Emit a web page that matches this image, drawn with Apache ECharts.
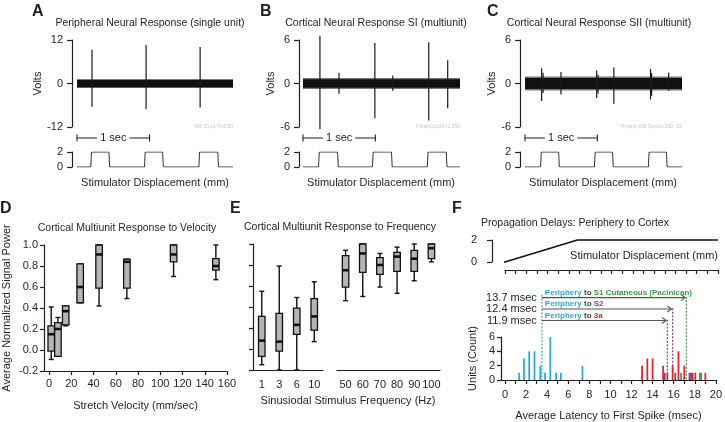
<!DOCTYPE html>
<html>
<head>
<meta charset="utf-8">
<script src="https://cdn.jsdelivr.net/npm/echarts@6/dist/echarts.min.js"></script>
<style>html,body{margin:0;padding:0;background:#fff}#chart{width:725px;height:422px}</style>
</head>
<body>
<div id="chart"></div>
<script>
var FONT = '"Liberation Sans", Arial, Helvetica, sans-serif';
var INK = '#231f20';
var BLUE = '#27aae1', RED = '#e2262b', PURPLE = '#7d3f98', GREEN = '#3a9a46';

// ---- top traces: time (sec), volts ----
var traceEnd = [2.15, 2.17, 2.17];
var spikesA = [[0.207, 9.3, -6.4], [0.952, 10.6, -7.0], [1.697, 10.1, -6.6]];
var spikesB = [[0.234, 6.6, -6.3], [0.497, 1.5, -1.4], [0.993, 5.6, -4.8], [1.241, 1.1, -1.0], [1.738, 5.7, -5.1], [2.0, 3.2, -3.4]];
var spikesC = [[0.23, 2.1, -2.4], [0.25, 1.5, -1.3], [0.497, 1.6, -1.5], [0.99, 1.8, -2.0], [1.01, 1.2, -1.4],
               [1.228, 2.2, -2.8], [1.735, 2.0, -2.2], [1.75, 1.4, -1.7], [1.986, 1.5, -1.0]];
var noiseA = [1.0, 1.25];   // inner / outer half-band (V)
var noiseB = [0.6, 0.75];
var noiseC = [0.75, 0.95];
var stimA = [[0,0],[0.19,0],[0.2,2],[0.44,2],[0.45,0],[0.93,0],[0.94,2],[1.18,2],[1.19,0],[1.68,0],[1.69,2],[1.94,2],[1.95,0],[2.15,0]];
var stimB = [[0,0],[0.215,0],[0.225,2],[0.478,2],[0.488,0],[0.96,0],[0.97,2],[1.223,2],[1.233,0],[1.718,0],[1.728,2],[1.98,2],[1.99,0],[2.17,0]];
var stimC = [[0,0],[0.215,0],[0.225,2],[0.465,2],[0.475,0],[0.96,0],[0.97,2],[1.21,2],[1.22,0],[1.705,0],[1.715,2],[1.955,2],[1.965,0],[2.17,0]];

// ---- D: velocity boxes [whisker low, Q1, median, Q3, whisker high] ----
var velocity = [2, 8, 15, 28, 45, 70, 112, 150];
var velocityBoxes = [
  [-0.09, -0.01, 0.15, 0.23, 0.41],
  [-0.06, -0.06, 0.20, 0.26, 0.31],
  [0.23, 0.24, 0.37, 0.42, 0.42],
  [0.45, 0.45, 0.60, 0.82, 0.82],
  [0.42, 0.59, 0.91, 1.00, 1.00],
  [0.49, 0.59, 0.84, 0.865, 0.865],
  [0.70, 0.84, 0.91, 1.00, 1.00],
  [0.67, 0.76, 0.80, 0.87, 1.00]
];
// ---- E: frequency boxes ----
var freqLow = ['1', '3', '6', '10'];
var freqLowBoxes = [
  [-0.15, -0.07, 0.08, 0.31, 0.55],
  [-0.20, -0.02, 0.07, 0.34, 0.79],
  [-0.20, 0.14, 0.23, 0.39, 0.49],
  [0.07, 0.18, 0.31, 0.48, 0.64]
];
var freqHigh = ['50', '60', '70', '80', '90', '100'];
var freqHighBoxes = [
  [0.46, 0.59, 0.75, 0.89, 0.94],
  [0.50, 0.73, 0.91, 1.00, 1.00],
  [0.59, 0.71, 0.80, 0.87, 0.91],
  [0.53, 0.74, 0.88, 0.92, 0.97],
  [0.65, 0.74, 0.86, 0.94, 1.00],
  [0.83, 0.86, 0.96, 1.00, 1.00]
];
// ---- F: latency histogram (msec, count) ----
var latBlue = [1.35, 1.8, 2.3, 2.8, 3.35, 3.8, 4.3, 4.85, 5.3, 7.35];
var cntBlue = [1, 3, 4, 4, 2, 1, 6, 1, 1, 2];
var latRed = [13.0, 13.5, 14.0, 15.0, 15.4, 15.9, 16.45, 17.0, 17.8, 18.05, 19.0];
var cntRed = [2, 3, 3, 2, 1, 2, 4, 2, 1, 1, 1];
var latPurple = [15.15, 16.15, 17.5, 17.65];
var cntPurple = [1, 1, 1, 1];
var latGreen = [16.7, 18.5, 18.6];
var cntGreen = [1, 1, 1];
var rampStim = [[-0.6, 0], [0, 0], [6.8, 2], [20, 2]];
var peripheryOnset = 3.5;
var pathTargets = ['S1 Cutaneous (Pacinican)', 'S2', '3a'];
var pathDelays = [13.7, 12.4, 11.9];
var pathColors = [GREEN, PURPLE, RED];
var arrowLevels = [11.5, 9.9, 8.3];   // layout (count units above the bars)

var chart = echarts.init(document.getElementById('chart'), null, {renderer: 'canvas'});

function zip(a, b) { return a.map(function (v, i) { return [v, b[i]]; }); }

function noiseItem(params, api) {
  var t0 = api.value(0), t1 = api.value(1), inner = api.value(2), outer = api.value(3);
  var p0 = api.coord([t0, outer]), p1 = api.coord([t1, -outer]);
  var q0 = api.coord([t0, inner]), q1 = api.coord([t1, -inner]);
  return {type: 'group', children: [
    {type: 'rect', shape: {x: p0[0], y: p0[1], width: p1[0] - p0[0], height: p1[1] - p0[1]}, style: {fill: 'rgba(30,30,30,0.6)'}},
    {type: 'rect', shape: {x: q0[0], y: q0[1], width: q1[0] - q0[0], height: q1[1] - q0[1]}, style: {fill: '#111'}}
  ]};
}
function spikeItem(params, api) {
  var a = api.coord([api.value(0), api.value(1)]), b = api.coord([api.value(0), api.value(2)]);
  return {type: 'line', shape: {x1: a[0], y1: a[1], x2: b[0], y2: b[1]}, style: {stroke: '#1a1a1a', lineWidth: 1.2}};
}
function scaleBarItem(params, api) {
  var a = api.coord([api.value(0), api.value(2)]), b = api.coord([api.value(1), api.value(2)]);
  var y = a[1] + 11;
  var st = {stroke: INK, lineWidth: 1.1};
  return {type: 'group', children: [
    {type: 'line', shape: {x1: a[0], y1: y, x2: b[0], y2: y}, style: st},
    {type: 'line', shape: {x1: a[0], y1: y - 3.5, x2: a[0], y2: y + 3.5}, style: st},
    {type: 'line', shape: {x1: b[0], y1: y - 3.5, x2: b[0], y2: y + 3.5}, style: st},
    {type: 'text', x: (a[0] + b[0]) / 2, y: y, style: {text: '1 sec', align: 'center', verticalAlign: 'middle',
      fontSize: 11, fontFamily: FONT, fill: INK, backgroundColor: '#fff', padding: [0, 3]}}
  ]};
}
function boxItem(params, api) {
  var x = api.value(0);
  var lo = api.coord([x, api.value(1)]), q1 = api.coord([x, api.value(2)]), md = api.coord([x, api.value(3)]);
  var q3 = api.coord([x, api.value(4)]), hi = api.coord([x, api.value(5)]);
  var cx = lo[0], w = 6.5, st = {stroke: '#111', lineWidth: 1.4};
  return {type: 'group', children: [
    {type: 'line', shape: {x1: cx, y1: hi[1], x2: cx, y2: lo[1]}, style: st},
    {type: 'line', shape: {x1: cx - 2.5, y1: hi[1], x2: cx + 2.5, y2: hi[1]}, style: st},
    {type: 'line', shape: {x1: cx - 2.5, y1: lo[1], x2: cx + 2.5, y2: lo[1]}, style: st},
    {type: 'rect', shape: {x: cx - w / 2, y: q3[1], width: w, height: Math.max(q1[1] - q3[1], 1)},
      style: {fill: '#b5b5b5', stroke: '#111', lineWidth: 1.3}},
    {type: 'line', shape: {x1: cx - w / 2, y1: md[1], x2: cx + w / 2, y2: md[1]}, style: {stroke: '#111', lineWidth: 2.6}}
  ]};
}
function histItem(color) {
  return function (params, api) {
    var a = api.coord([api.value(0), api.value(1)]), b = api.coord([api.value(0), 0]);
    return {type: 'rect', shape: {x: a[0] - 0.9, y: a[1], width: 1.8, height: b[1] - a[1]}, style: {fill: color}};
  };
}
function dottedItem(params, api) {
  var i = api.value(2);
  var a = api.coord([api.value(0), api.value(1)]), b = api.coord([api.value(0), 0]);
  var c = i < 0 ? BLUE : pathColors[i];
  return {type: 'line', shape: {x1: a[0], y1: a[1], x2: b[0], y2: b[1]}, style: {stroke: c, lineWidth: 1.2, lineDash: [2, 1.5]}};
}
function arrowItem(params, api) {
  var i = api.value(3);
  var a = api.coord([api.value(0), api.value(2)]), b = api.coord([api.value(1), api.value(2)]);
  var st = {stroke: '#555', lineWidth: 1.1};
  return {type: 'group', children: [
    {type: 'line', shape: {x1: a[0], y1: a[1], x2: b[0], y2: b[1]}, style: st},
    {type: 'polyline', shape: {points: [[b[0] - 4, b[1] - 3], [b[0], b[1]], [b[0] - 4, b[1] + 3]]}, style: {stroke: '#555', lineWidth: 1.1, fill: null}},
    {type: 'text', x: a[0] - 5, y: a[1], style: {text: pathDelays[i].toFixed(1) + ' msec', align: 'right', verticalAlign: 'middle',
      fontSize: 11, fontFamily: FONT, fill: INK}},
    {type: 'text', x: a[0] + 3, y: a[1] - 5, style: {
      text: '{p|Periphery} {t|to} {c|' + pathTargets[i] + '}', align: 'left', verticalAlign: 'middle',
      fontSize: 8, fontFamily: FONT, fontWeight: 'bold',
      rich: {p: {fill: BLUE, fontSize: 8, fontWeight: 'bold', fontFamily: FONT},
             t: {fill: '#444', fontSize: 8, fontWeight: 'bold', fontFamily: FONT},
             c: {fill: pathColors[i], fontSize: 8, fontWeight: 'bold', fontFamily: FONT}}}}
  ]};
}

function lab(size) { return {fontSize: size || 11, fontFamily: FONT, color: INK}; }
function axLine() { return {show: true, onZero: false, lineStyle: {color: INK, width: 1.2}}; }
function voltAxis(gi, lim, offset) {
  return {gridIndex: gi, type: 'value', min: -lim, max: lim, interval: lim, offset: offset,
    axisLine: axLine(), axisTick: {show: true, length: 5, lineStyle: {color: INK, width: 1.2}},
    axisLabel: Object.assign(lab(11), {margin: 9}), splitLine: {show: false},
    name: 'Volts', nameLocation: 'middle', nameGap: 21, nameTextStyle: lab(11)};
}
function stimAxis(gi, offset, margin) {
  return {gridIndex: gi, type: 'value', min: 0, max: 2, interval: 2, offset: offset,
    axisLine: axLine(), axisTick: {show: true, length: 5, lineStyle: {color: INK, width: 1.2}},
    axisLabel: Object.assign(lab(11), {margin: margin || 9}), splitLine: {show: false}};
}
function timeAxis(gi, end) { return {gridIndex: gi, type: 'value', min: 0, max: end, show: false}; }
function fmt1(v) { return Math.abs(v) < 1e-9 ? '0.0' : v.toFixed(1); }
function ticks(a, b, s) { var r = []; for (var v = a; v <= b + 1e-9; v += s) r.push(+v.toFixed(3)); return r; }

var boxRows = function (xs, boxes) { return boxes.map(function (b, i) { return [xs[i]].concat(b); }); };
var catRows = function (boxes) { return boxes.map(function (b, i) { return [i].concat(b); }); };

var series = [];
var traces = [[spikesA, noiseA, stimA, 12], [spikesB, noiseB, stimB, 6], [spikesC, noiseC, stimC, 6]];
traces.forEach(function (t, k) {
  var g = k * 2;
  series.push({type: 'custom', xAxisIndex: g, yAxisIndex: g, renderItem: noiseItem, data: [[0, traceEnd[k], t[1][0], t[1][1]]], silent: true});
  series.push({type: 'custom', xAxisIndex: g, yAxisIndex: g, renderItem: spikeItem, data: t[0], silent: true});
  series.push({type: 'custom', xAxisIndex: g, yAxisIndex: g, renderItem: scaleBarItem, data: [[0, 1, -t[3]]], silent: true, clip: false});
  series.push({type: 'line', xAxisIndex: g + 1, yAxisIndex: g + 1, data: t[2], showSymbol: false, silent: true,
    lineStyle: {color: '#333', width: 1}});
});
series.push({type: 'custom', xAxisIndex: 6, yAxisIndex: 6, renderItem: boxItem, data: boxRows(velocity, velocityBoxes), clip: false});
series.push({type: 'custom', xAxisIndex: 7, yAxisIndex: 7, renderItem: boxItem, data: catRows(freqLowBoxes), clip: false});
series.push({type: 'custom', xAxisIndex: 8, yAxisIndex: 8, renderItem: boxItem, data: catRows(freqHighBoxes), clip: false});
series.push({type: 'line', xAxisIndex: 9, yAxisIndex: 9, data: rampStim, showSymbol: false, clip: false, lineStyle: {color: '#111', width: 1.5}});
var dotted = [[peripheryOnset, 11.9, -1]];
pathDelays.forEach(function (d, i) { dotted.push([peripheryOnset + d, arrowLevels[i] + 0.1, i]); });
series.push({type: 'custom', xAxisIndex: 10, yAxisIndex: 10, renderItem: dottedItem, data: dotted, clip: false});
series.push({type: 'custom', xAxisIndex: 10, yAxisIndex: 10, renderItem: histItem(BLUE), data: zip(latBlue, cntBlue)});
series.push({type: 'custom', xAxisIndex: 10, yAxisIndex: 10, renderItem: histItem(RED), data: zip(latRed, cntRed)});
series.push({type: 'custom', xAxisIndex: 10, yAxisIndex: 10, renderItem: histItem(PURPLE), data: zip(latPurple, cntPurple)});
series.push({type: 'custom', xAxisIndex: 10, yAxisIndex: 10, renderItem: histItem(GREEN), data: zip(latGreen, cntGreen)});
series.push({type: 'custom', xAxisIndex: 10, yAxisIndex: 10, renderItem: arrowItem, clip: false,
  data: pathDelays.map(function (d, i) { return [peripheryOnset, peripheryOnset + d - 0.12, arrowLevels[i], i]; })});

function gtext(x, y, s, o) {
  o = o || {};
  return {type: 'text', x: x, y: y, silent: true, style: {text: s, fontSize: o.size || 11, fontFamily: FONT,
    fontWeight: o.bold ? 'bold' : 'normal', fill: o.color || INK, align: o.align || 'center', verticalAlign: 'middle'}};
}

var option = {
  animation: false,
  backgroundColor: '#fff',
  grid: [
    {left: 77, top: 40, width: 156, height: 87},
    {left: 77, top: 152, width: 156, height: 15},
    {left: 303, top: 40, width: 157, height: 87},
    {left: 303, top: 152, width: 157, height: 15},
    {left: 525, top: 40, width: 157, height: 87},
    {left: 525, top: 152, width: 157, height: 15},
    {left: 43, top: 245, width: 184, height: 126},
    {left: 253, top: 244, width: 70, height: 126},
    {left: 337, top: 244, width: 103, height: 126},
    {left: 505, top: 240, width: 213, height: 22},
    {left: 501, top: 337, width: 217, height: 48}
  ],
  xAxis: [
    timeAxis(0, traceEnd[0]), timeAxis(1, traceEnd[0]),
    timeAxis(2, traceEnd[1]), timeAxis(3, traceEnd[1]),
    timeAxis(4, traceEnd[2]), timeAxis(5, traceEnd[2]),
    {gridIndex: 6, type: 'value', min: -4.5, max: 160, axisLine: axLine(),
      axisTick: {show: true, length: 4, customValues: ticks(0, 160, 20), lineStyle: {color: INK, width: 1.2}},
      axisLabel: Object.assign(lab(11), {margin: 7, customValues: ticks(0, 160, 20)}), splitLine: {show: false},
      name: 'Stretch Velocity (mm/sec)', nameLocation: 'middle', nameGap: 29, nameTextStyle: lab(11)},
    {gridIndex: 7, type: 'category', data: freqLow, axisLine: axLine(), axisTick: {show: false},
      axisLabel: Object.assign(lab(11), {margin: 9})},
    {gridIndex: 8, type: 'category', data: freqHigh, axisLine: axLine(), axisTick: {show: false},
      axisLabel: Object.assign(lab(11), {margin: 9, interval: 0})},
    {gridIndex: 9, type: 'value', min: 0, max: 20, interval: 1, offset: 8, axisLine: axLine(),
      axisTick: {show: true, length: 4, lineStyle: {color: INK, width: 1.2}}, axisLabel: {show: false}, splitLine: {show: false}},
    {gridIndex: 10, type: 'value', min: -0.375, max: 20, axisLine: axLine(),
      axisTick: {show: true, length: 4, customValues: ticks(0, 20, 1), lineStyle: {color: INK, width: 1.2}},
      axisLabel: Object.assign(lab(11), {margin: 9, customValues: ticks(0, 20, 2)}), splitLine: {show: false},
      name: 'Average Latency to First Spike (msec)', nameLocation: 'middle', nameGap: 30, nameTextStyle: lab(11)}
  ],
  yAxis: [
    voltAxis(0, 12, 5), stimAxis(1, 5),
    voltAxis(2, 6, 4), stimAxis(3, 4),
    voltAxis(4, 6, 5), stimAxis(5, 5),
    {gridIndex: 6, type: 'value', min: -0.2, max: 1.0, interval: 0.2, axisLine: axLine(),
      axisTick: {show: true, length: 4, lineStyle: {color: INK, width: 1.2}},
      axisLabel: Object.assign(lab(11), {margin: 6, formatter: fmt1}), splitLine: {show: false},
      name: 'Average Normalized Signal Power', nameLocation: 'middle', nameGap: 32, nameTextStyle: lab(11)},
    {gridIndex: 7, type: 'value', min: -0.2, max: 1.0, interval: 0.2, axisLine: axLine(),
      axisTick: {show: true, length: 4, lineStyle: {color: INK, width: 1.2}}, axisLabel: {show: false}, splitLine: {show: false}},
    {gridIndex: 8, type: 'value', min: -0.2, max: 1.0, show: false},
    stimAxis(9, 13, 15),
    {gridIndex: 10, type: 'value', min: 0, max: 6, interval: 2, axisLine: axLine(),
      axisTick: {show: true, length: 4, lineStyle: {color: INK, width: 1.2}},
      axisLabel: Object.assign(lab(11), {margin: 6}), splitLine: {show: false},
      name: 'Units (Count)', nameLocation: 'middle', nameGap: 23, nameTextStyle: lab(11)}
  ],
  graphic: [
    gtext(32, 12, 'A', {size: 16, bold: true, align: 'left'}),
    gtext(260, 12, 'B', {size: 16, bold: true, align: 'left'}),
    gtext(487, 12, 'C', {size: 16, bold: true, align: 'left'}),
    gtext(0, 209, 'D', {size: 16, bold: true, align: 'left'}),
    gtext(230, 209, 'E', {size: 16, bold: true, align: 'left'}),
    gtext(452, 209, 'F', {size: 16, bold: true, align: 'left'}),
    gtext(150, 23, 'Peripheral Neural Response (single unit)', {size: 10.5}),
    gtext(376, 23, 'Cortical Neural Response SI (multiunit)', {size: 10.5}),
    gtext(599, 23, 'Cortical Neural Response SII (multiunit)', {size: 10.5}),
    gtext(127, 228, 'Cortical Multiunit Response to Velocity', {size: 10.5}),
    gtext(340, 227, 'Cortical Multiunit Response to Frequency', {size: 10.5}),
    gtext(481, 223, 'Propagation Delays: Periphery to Cortex', {size: 10.5, align: 'left'}),
    gtext(155, 183, 'Stimulator Displacement (mm)'),
    gtext(381, 183, 'Stimulator Displacement (mm)'),
    gtext(603, 183, 'Stimulator Displacement (mm)'),
    gtext(718, 256, 'Stimulator Displacement (mm)', {align: 'right'}),
    gtext(348, 401, 'Sinusiodal Stimulus Frequency (Hz)'),
    gtext(233, 127, 'NR-23 p1 Trd250', {size: 5, color: '#c8c8c8', align: 'right'}),
    gtext(460, 127, 'Pinap13 p39 r2.250', {size: 5, color: '#c8c8c8', align: 'right'}),
    gtext(682, 127, 'Pinap9 p59 SqnWv.250; S2', {size: 5, color: '#c8c8c8', align: 'right'})
  ],
  series: series
};
chart.setOption(option);
</script>
</body>
</html>
